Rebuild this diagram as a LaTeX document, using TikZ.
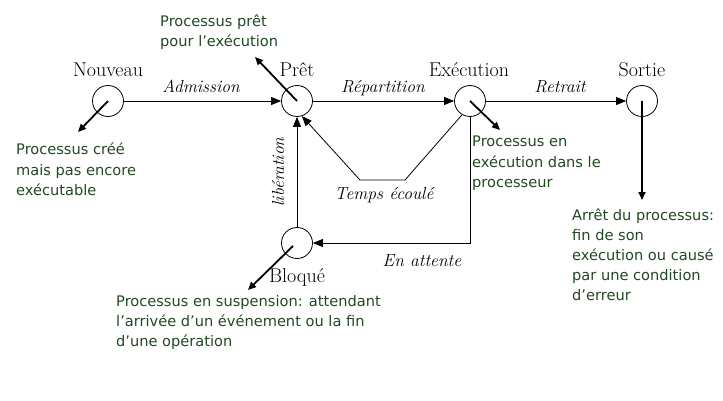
\documentclass[tikz,border=0pt]{standalone}
\usepackage{fontspec}
\newfontfamily\notefont{DejaVu Sans}
\usetikzlibrary{arrows.meta}
\definecolor{notegreen}{RGB}{34,72,34}
\begin{document}
\begin{tikzpicture}[x=1pt,y=-1pt,
 state/.style={circle,draw,line width=0.8pt,minimum size=31pt,inner sep=0pt},
 statelbl/.style={font=\fontsize{20}{22}\selectfont,anchor=base,inner sep=0pt},
 edgelbl/.style={font=\fontsize{17.5}{20}\selectfont\itshape,anchor=base,inner sep=0pt},
 note/.style={font=\notefont\fontsize{14.6}{20}\selectfont,text=notegreen,align=left,anchor=base west,inner sep=0pt},
 conn/.style={line width=0.8pt,-{Triangle[length=10pt,width=8pt]}},
 pointer/.style={line width=1.8pt,-{Triangle[length=8pt,width=7pt]}},
]
\useasboundingbox (0,0) rectangle (723,401);
% states
\node[state] (nouv) at (108,101) {};
\node[state] (pret) at (297,101) {};
\node[state] (exe) at (470,101) {};
\node[state] (sort) at (642,101) {};
\node[state] (bloq) at (297,243) {};
% state labels
\node[statelbl] (lnouv) at (108,77) {Nouveau};
\node[statelbl] (lpret) at (297,77) {Prêt};
\node[statelbl] (lexe) at (469,77) {Exécution};
\node[statelbl] (lsort) at (642,77) {Sortie};
\node[statelbl] (lbloq) at (297,282) {Bloqué};
% edge labels
\node[edgelbl] (ladm) at (201,93) {Admission};
\node[edgelbl] (lrep) at (383,93) {Répartition};
\node[edgelbl] (lret) at (560,93) {Retrait};
\node[edgelbl] (ltemps) at (384,199) {Temps écoulé};
\node[edgelbl] (latt) at (422,266) {En attente};
\node[edgelbl,rotate=90,anchor=center] (llib) at (278,172) {libération};
% connectors
\draw[conn] (nouv) -- (pret);
\draw[conn] (pret) -- (exe);
\draw[conn] (exe) -- (sort);
\coordinate (c1) at (405,180);
\coordinate (c2) at (360,180);
\draw[conn] (exe.240) -- (c1) -- (c2) -- (pret.-72);
\coordinate (c3) at (470,243);
\draw[conn] (exe.south) -- (c3) -- (bloq.east);
\draw[conn] (bloq.north) -- (pret.south);
% pointers
\coordinate (pn) at (78,132);
\coordinate (pp) at (255,57);
\coordinate (pe) at (500,130);
\coordinate (ps) at (642,200);
\coordinate (pb) at (248,290);
\draw[pointer] (nouv.center) -- (pn);
\draw[pointer] (pret.center) -- (pp);
\draw[pointer] (exe.center) -- (pe);
\draw[pointer] (sort.center) -- (ps);
\draw[pointer] ([shift={(-4,3)}]bloq.center) -- (pb);
% notes (anchored at the baseline of the last line)
\node[note] (npret) at (160,47) {Processus prêt\\pour l’exécution};
\node[note] (nnouv) at (16,195) {Processus créé\\mais pas encore\\exécutable};
\node[note] (nexe) at (472,187) {Processus en\\exécution dans le\\processeur};
\node[note] (nsort) at (572,300) {Arrêt du processus:\\fin de son\\exécution ou causé\\par une condition\\d’erreur};
\node[note] (nbloq) at (116,346) {Processus en suspension: attendant\\l’arrivée d’un événement ou la fin\\d’une opération};
\end{tikzpicture}
\end{document}
